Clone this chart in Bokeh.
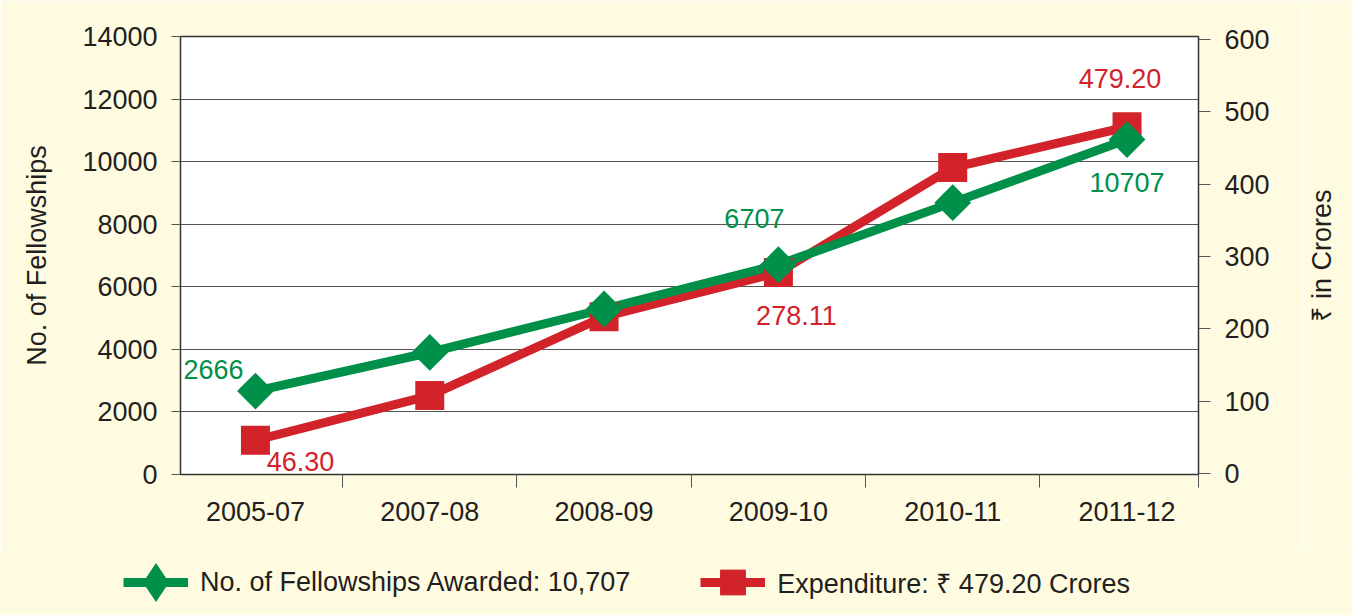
import math
from bokeh.plotting import figure
from bokeh.layouts import row
from bokeh.models import (Range1d, LinearAxis, FixedTicker, ColumnDataSource,
                          LabelSet, Legend, LegendItem)
from bokeh.core.properties import value
from bokeh.embed import file_html
from bokeh.resources import INLINE

# ---------------- data ----------------
categories = ["2005-07", "2007-08", "2008-09", "2009-10", "2010-11", "2011-12"]
fellowships = [2666, 3900, 5290, 6707, 8690, 10707]
expenditure = [46.30, 108, 217, 278.11, 423, 479.20]
fellow_labels = ["2666", "", "", "6707", "", "10707"]
expend_labels = ["46.30", "", "", "278.11", "", "479.20"]
left_ticks = [0, 2000, 4000, 6000, 8000, 10000, 12000, 14000]
right_ticks = [0, 100, 200, 300, 400, 500, 600]
legend_fellow = "No. of Fellowships Awarded: 10,707"
legend_expend = "Expenditure: \u20b9 479.20 Crores"
left_title = "No. of Fellowships"
right_title = "\u20b9 in Crores"

# ---------------- styles ----------------
GREEN = "#00904A"
RED = "#D2232A"
TEXT = "#231F20"
GRID = "#555555"
CREAM = "#FFFBE0"
FONT = "Liberation Sans"
FS = "27px"
X_START, X_END = -0.43, 5.41

# label offsets (screen px)
fellow_dx = [-42, 0, 0, -24, 0, 0]
fellow_dy = [22, 0, 0, 46, 0, -43]
expend_dx = [45, 0, 0, 18, 0, -7]
expend_dy = [-21, 0, 0, -43, 0, 48]

x_idx = list(range(len(categories)))

src = ColumnDataSource(dict(
    x=x_idx, fel=fellowships, exp=expenditure,
    fl=fellow_labels, el=expend_labels,
    fdx=fellow_dx, fdy=fellow_dy, edx=expend_dx, edy=expend_dy,
))

p = figure(width=1302, height=551,
           x_range=Range1d(X_START, X_END), y_range=Range1d(0, 14000),
           output_backend="svg", toolbar_location=None,
           min_border_left=180, min_border_right=104,
           min_border_top=36, min_border_bottom=77,
           background_fill_color="white", border_fill_color=CREAM,
           outline_line_color="#333333", outline_line_width=1.5)

# left axis
la = p.yaxis[0]
la.ticker = FixedTicker(ticks=left_ticks)
la.axis_label = left_title
la.major_tick_out = 9
la.major_tick_in = 0
la.minor_tick_line_color = None
la.major_tick_line_color = GRID
la.axis_line_color = "#333333"
la.major_label_standoff = 14
la.axis_label_standoff = 27
la.major_label_text_font = FONT
la.major_label_text_font_size = FS
la.major_label_text_color = TEXT
la.axis_label_text_font = FONT
la.axis_label_text_font_size = FS
la.axis_label_text_font_style = "normal"
la.axis_label_text_color = TEXT

p.ygrid.ticker = FixedTicker(ticks=left_ticks)
p.ygrid.grid_line_color = GRID
p.ygrid.grid_line_width = 1
p.xgrid.visible = False

# right axis (ticks and tick labels)
p.extra_y_ranges = {"exp": Range1d(-1, 604)}
ra = LinearAxis(y_range_name="exp", ticker=FixedTicker(ticks=right_ticks))
ra.major_tick_out = 12
ra.major_tick_in = 0
ra.minor_tick_line_color = None
ra.major_tick_line_color = GRID
ra.axis_line_color = "#333333"
ra.major_label_standoff = 14
ra.major_label_text_font = FONT
ra.major_label_text_font_size = FS
ra.major_label_text_color = TEXT
p.add_layout(ra, "right")

# x axis
xa = p.xaxis[0]
xa.ticker = FixedTicker(ticks=x_idx,
                        minor_ticks=[i + 0.5 for i in x_idx[:-1]] + [X_END])
xa.major_label_overrides = {i: c for i, c in zip(x_idx, categories)}
xa.major_tick_out = 0
xa.major_tick_in = 0
xa.minor_tick_out = 13
xa.minor_tick_in = 0
xa.minor_tick_line_color = GRID
xa.axis_line_color = "#333333"
xa.major_label_standoff = 14
xa.major_label_text_font = FONT
xa.major_label_text_font_size = FS
xa.major_label_text_color = TEXT

# series
p.line("x", "exp", source=src, y_range_name="exp", line_color=RED, line_width=9)
p.line("x", "fel", source=src, line_color=GREEN, line_width=9)
p.scatter("x", "exp", source=src, y_range_name="exp", marker="square",
          size=29, fill_color=RED, line_color=None)
p.scatter("x", "fel", source=src, marker="square", angle=math.pi / 4,
          size=26, fill_color=GREEN, line_color=None)

# data labels
p.add_layout(LabelSet(x="x", y="fel", text="fl", x_offset="fdx", y_offset="fdy",
                      source=src, text_align="center", text_baseline="middle",
                      text_color=GREEN, text_font=value(FONT), text_font_size=FS))
p.add_layout(LabelSet(x="x", y="exp", y_range_name="exp", text="el",
                      x_offset="edx", y_offset="edy",
                      source=src, text_align="center", text_baseline="middle",
                      text_color=RED, text_font=value(FONT), text_font_size=FS))

# ---------------- right-hand title strip (reads bottom-to-top) ----------------
tf = figure(width=50, height=551, x_range=Range1d(0, 1),
            y_range=Range1d(-1, 604), output_backend="svg",
            toolbar_location=None, x_axis_location=None,
            min_border_left=40, min_border_right=0,
            min_border_top=36, min_border_bottom=77,
            border_fill_color=CREAM, background_fill_color=CREAM,
            outline_line_color=None)
tf.xgrid.visible = False
tf.ygrid.visible = False
ta = tf.yaxis[0]
ta.ticker = FixedTicker(ticks=[])
ta.axis_label = right_title
ta.major_tick_out = 0
ta.major_tick_in = 0
ta.major_label_standoff = 0
ta.minor_tick_line_color = None
ta.major_tick_line_color = None
ta.axis_line_color = None
ta.axis_label_standoff = 6
ta.axis_label_text_font = FONT
ta.axis_label_text_font_size = FS
ta.axis_label_text_font_style = "normal"
ta.axis_label_text_color = TEXT

# ---------------- legend strip ----------------
lf = figure(width=1352, height=64, x_range=Range1d(X_START, X_END),
            y_range=Range1d(0, 14000), output_backend="svg",
            toolbar_location=None, x_axis_location=None, y_axis_location=None,
            min_border=0, min_border_left=0, min_border_right=0,
            min_border_top=0, min_border_bottom=0,
            border_fill_color=CREAM, background_fill_color=CREAM,
            outline_line_color=None)
lf.extra_y_ranges = {"exp": Range1d(-1, 604)}
lf.xgrid.visible = False
lf.ygrid.visible = False
g_line = lf.line("x", "fel", source=src, line_color=GREEN, line_width=9, visible=False)
g_mark = lf.scatter("x", "fel", source=src, marker="diamond", size=26,
                    fill_color=GREEN, line_color=GREEN, line_width=8,
                    line_join="miter", visible=False)
r_line = lf.line("x", "exp", source=src, y_range_name="exp", line_color=RED,
                 line_width=9, visible=False)
r_mark = lf.scatter("x", "exp", source=src, y_range_name="exp", marker="square",
                    size=26, fill_color=RED, line_color=RED, line_width=1,
                    visible=False)
legend = Legend(items=[LegendItem(label=legend_fellow, renderers=[g_line, g_mark]),
                       LegendItem(label=legend_expend, renderers=[r_line, r_mark])],
                orientation="horizontal", location=(123, 2),
                glyph_width=65, glyph_height=62, label_standoff=12, spacing=70,
                padding=0, margin=0, border_line_color=None,
                background_fill_alpha=0,
                label_text_font=FONT, label_text_font_size=FS,
                label_text_color=TEXT)
lf.add_layout(legend)

open("out.html", "w").write(file_html([row(p, tf, spacing=0), lf], INLINE))
